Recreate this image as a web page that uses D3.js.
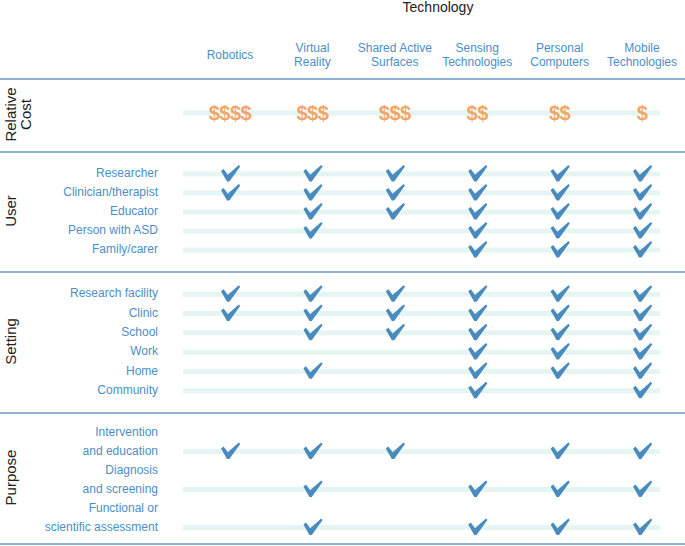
<!DOCTYPE html>
<html>
<head>
<meta charset="utf-8">
<script src="https://cdn.jsdelivr.net/npm/d3@7"></script>
<style>
  body { margin: 0; background: #fff; }
  svg { display: block; font-family: "Liberation Sans", Arial, sans-serif; }
</style>
</head>
<body>
<div id="chart"></div>
<script>
// Columns
var technologies = ["Robotics", "Virtual Reality", "Shared Active Surfaces",
  "Sensing Technologies", "Personal Computers", "Mobile Technologies"];
var techLabels = [["Robotics"], ["Virtual", "Reality"], ["Shared Active", "Surfaces"],
  ["Sensing", "Technologies"], ["Personal", "Computers"], ["Mobile", "Technologies"]];

// Relative cost (number of $ signs)
var costLevels = [4, 3, 3, 2, 2, 1];

// User
var userRows = ["Researcher", "Clinician/therapist", "Educator", "Person with ASD", "Family/carer"];
var userChecks = [
  [1, 1, 1, 1, 1, 1],
  [1, 1, 1, 1, 1, 1],
  [0, 1, 1, 1, 1, 1],
  [0, 1, 0, 1, 1, 1],
  [0, 0, 0, 1, 1, 1]
];

// Setting
var settingRows = ["Research facility", "Clinic", "School", "Work", "Home", "Community"];
var settingChecks = [
  [1, 1, 1, 1, 1, 1],
  [1, 1, 1, 1, 1, 1],
  [0, 1, 1, 1, 1, 1],
  [0, 0, 0, 1, 1, 1],
  [0, 1, 0, 1, 1, 1],
  [0, 0, 0, 1, 0, 1]
];

// Purpose
var purposeRows = [["Intervention", "and education"], ["Diagnosis", "and screening"],
  ["Functional or", "scientific assessment"]];
var purposeChecks = [
  [1, 1, 1, 0, 1, 1],
  [0, 1, 0, 1, 1, 1],
  [0, 1, 0, 1, 1, 1]
];

// Layout
var width = 685, height = 546;
var dividers = [79, 152, 272, 413, 544];
var bandLeft = 183, bandRight = 660, labelRight = 158;
var labelColor = "#4b8fc6", checkColor = "#4a8bbf", bandColor = "#e5f5f1",
    lineColor = "#8fb2d4", costColor = "#f1a567";

var svg = d3.select("#chart").append("svg")
  .attr("width", width)
  .attr("height", height);

var x = d3.scalePoint().domain(technologies).range([230, 642]);

// Title
svg.append("text")
  .attr("x", (x.range()[0] + x.range()[1]) / 2 + 2)
  .attr("y", 8)
  .attr("dominant-baseline", "middle")
  .attr("text-anchor", "middle")
  .attr("font-size", 14)
  .attr("fill", "#222")
  .text("Technology");

// Column headers
technologies.forEach(function(t, i) {
  var lines = techLabels[i];
  var txt = svg.append("text")
    .attr("text-anchor", "middle")
    .attr("font-size", 12)
    .attr("fill", labelColor);
  lines.forEach(function(l, j) {
    txt.append("tspan")
      .attr("x", x(t))
      .attr("y", 55.5 + (j - (lines.length - 1) / 2) * 14)
      .attr("dominant-baseline", "middle")
      .text(l);
  });
});

// Divider lines
svg.selectAll("line.divider")
  .data(dividers)
  .enter().append("line")
  .attr("class", "divider")
  .attr("x1", 0).attr("x2", width)
  .attr("y1", function(d) { return d; })
  .attr("y2", function(d) { return d; })
  .attr("stroke", lineColor)
  .attr("stroke-width", 2);

// Sections
var sections = [
  {title: ["Relative", "Cost"], rows: ["cost"], step: 0, offset: -2.5},
  {title: ["User"], rows: userRows, checks: userChecks, step: 19, offset: 0},
  {title: ["Setting"], rows: settingRows, checks: settingChecks, step: 19.3, offset: 0},
  {title: ["Purpose"], rows: purposeRows, checks: purposeChecks, step: 38, offset: 11}
];

var checkPath = "M-9,-2.6 L-6.4,-4.6 L-2.2,1.2 L8.8,-8.6 L10.2,-7.1 L-0.6,7.9 L-3,7.9 Z";

sections.forEach(function(s, si) {
  var top = dividers[si], bottom = dividers[si + 1];
  var mid = (top + bottom) / 2;
  var n = s.rows.length;
  var keys = s.rows.map(function(r, i) { return i; });
  var y = d3.scalePoint().domain(keys)
    .range([mid - (n - 1) * s.step / 2 + s.offset, mid + (n - 1) * s.step / 2 + s.offset]);

  // Section title (rotated)
  var title = svg.append("text")
    .attr("transform", "translate(12," + (mid - 1) + ") rotate(-90)")
    .attr("text-anchor", "middle")
    .attr("font-size", 15)
    .attr("fill", "#222");
  s.title.forEach(function(l, j) {
    title.append("tspan")
      .attr("x", 0)
      .attr("y", j * 15)
      .attr("dominant-baseline", "middle")
      .text(l);
  });

  // Bands
  svg.selectAll(null)
    .data(keys)
    .enter().append("rect")
    .attr("x", bandLeft)
    .attr("width", bandRight - bandLeft)
    .attr("y", function(d) { return y(d) - 2.5; })
    .attr("height", 5)
    .attr("fill", bandColor);

  if (si === 0) {
    svg.selectAll(null)
      .data(costLevels)
      .enter().append("text")
      .attr("x", function(d, i) { return x(technologies[i]); })
      .attr("y", y(0))
      .attr("dominant-baseline", "central")
      .attr("text-anchor", "middle")
      .attr("font-size", 20)
      .attr("font-weight", "bold")
      .attr("letter-spacing", -0.5)
      .attr("fill", costColor)
      .text(function(d) { return "$".repeat(d); });
    return;
  }

  // Row labels
  s.rows.forEach(function(r, i) {
    var lines = Array.isArray(r) ? r : [r];
    var txt = svg.append("text")
      .attr("text-anchor", "end")
      .attr("font-size", 12)
      .attr("fill", labelColor);
    lines.forEach(function(l, j) {
      txt.append("tspan")
        .attr("x", labelRight)
        .attr("y", y(i) - (lines.length - 1 - j) * 19)
        .attr("dominant-baseline", "middle")
        .text(l);
    });
  });

  // Check marks
  var cells = [];
  s.checks.forEach(function(row, i) {
    row.forEach(function(v, j) { if (v) cells.push({r: i, c: j}); });
  });
  svg.selectAll(null)
    .data(cells)
    .enter().append("path")
    .attr("transform", function(d) {
      return "translate(" + x(technologies[d.c]) + "," + (y(d.r) - 0.5) + ")";
    })
    .attr("d", checkPath)
    .attr("fill", checkColor);
});
</script>
</body>
</html>
